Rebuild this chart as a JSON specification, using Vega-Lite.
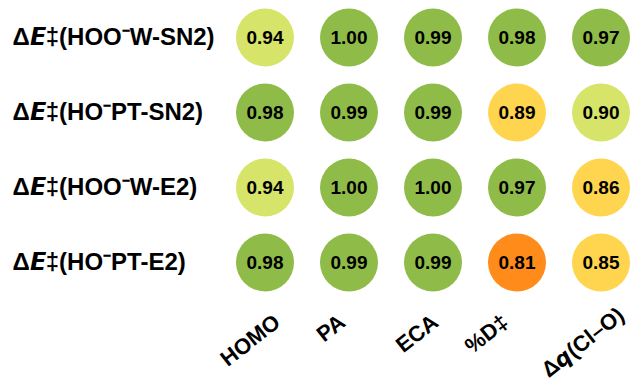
{
  "$schema": "https://vega.github.io/schema/vega-lite/v6.json",
  "autosize": {"type": "none"},
  "padding": {"left": 223, "top": 0, "right": 0, "bottom": 87},
  "width": 420,
  "height": 300,
  "background": "white",
  "config": {"view": {"stroke": null}, "font": "Liberation Sans"},
  "data": {"values": [
    {"row": "Δ𝙀‡(HOO⁻W-SN2)", "col": "HOMO", "v": 0.94},
    {"row": "Δ𝙀‡(HOO⁻W-SN2)", "col": "PA", "v": 1.00},
    {"row": "Δ𝙀‡(HOO⁻W-SN2)", "col": "ECA", "v": 0.99},
    {"row": "Δ𝙀‡(HOO⁻W-SN2)", "col": "%D‡", "v": 0.98},
    {"row": "Δ𝙀‡(HOO⁻W-SN2)", "col": "Δ𝙦(Cl–O)", "v": 0.97},
    {"row": "Δ𝙀‡(HO⁻PT-SN2)", "col": "HOMO", "v": 0.98},
    {"row": "Δ𝙀‡(HO⁻PT-SN2)", "col": "PA", "v": 0.99},
    {"row": "Δ𝙀‡(HO⁻PT-SN2)", "col": "ECA", "v": 0.99},
    {"row": "Δ𝙀‡(HO⁻PT-SN2)", "col": "%D‡", "v": 0.89},
    {"row": "Δ𝙀‡(HO⁻PT-SN2)", "col": "Δ𝙦(Cl–O)", "v": 0.90},
    {"row": "Δ𝙀‡(HOO⁻W-E2)", "col": "HOMO", "v": 0.94},
    {"row": "Δ𝙀‡(HOO⁻W-E2)", "col": "PA", "v": 1.00},
    {"row": "Δ𝙀‡(HOO⁻W-E2)", "col": "ECA", "v": 1.00},
    {"row": "Δ𝙀‡(HOO⁻W-E2)", "col": "%D‡", "v": 0.97},
    {"row": "Δ𝙀‡(HOO⁻W-E2)", "col": "Δ𝙦(Cl–O)", "v": 0.86},
    {"row": "Δ𝙀‡(HO⁻PT-E2)", "col": "HOMO", "v": 0.98},
    {"row": "Δ𝙀‡(HO⁻PT-E2)", "col": "PA", "v": 0.99},
    {"row": "Δ𝙀‡(HO⁻PT-E2)", "col": "ECA", "v": 0.99},
    {"row": "Δ𝙀‡(HO⁻PT-E2)", "col": "%D‡", "v": 0.81},
    {"row": "Δ𝙀‡(HO⁻PT-E2)", "col": "Δ𝙦(Cl–O)", "v": 0.85}
  ]},
  "encoding": {
    "x": {"field": "col", "type": "nominal", "sort": null,
      "scale": {"paddingInner": 0, "paddingOuter": 0},
      "axis": {"title": null, "orient": "bottom", "domain": false, "ticks": false,
        "labelAngle": -38, "labelAlign": "right", "labelBaseline": "middle",
        "labelFontSize": 22, "labelFontWeight": "bold", "labelColor": "black",
        "labelPadding": {"condition": {"test": "datum.value == 'Δ𝙦(Cl–O)'", "value": 12}, "value": 19},
        "labelOffset": {"condition": [
          {"test": "datum.value == 'HOMO'", "value": 12},
          {"test": "datum.value == 'PA'", "value": -7},
          {"test": "datum.value == 'ECA'", "value": 2},
          {"test": "datum.value == '%D‡'", "value": -12}
        ], "value": 20}}},
    "y": {"field": "row", "type": "nominal", "sort": null,
      "scale": {"paddingInner": 0, "paddingOuter": 0},
      "axis": {"title": null, "domain": false, "ticks": false,
        "labelAlign": "left", "labelPadding": 211, "labelFontSize": 24,
        "labelFontWeight": "bold", "labelColor": "black", "labelLimit": 300}}
  },
  "layer": [
    {"mark": {"type": "circle", "size": 3364, "opacity": 1},
     "encoding": {"color": {"field": "v", "type": "quantitative",
       "scale": {"type": "threshold", "domain": [0.845, 0.895, 0.965],
         "range": ["#FF8C1A", "#FFD54F", "#D6E46A", "#8FBC48"]}, "legend": null}}},
    {"mark": {"type": "text", "fontSize": 19, "fontWeight": "bold", "color": "black"},
     "encoding": {"text": {"field": "v", "type": "quantitative", "format": ".2f"}}}
  ]
}
